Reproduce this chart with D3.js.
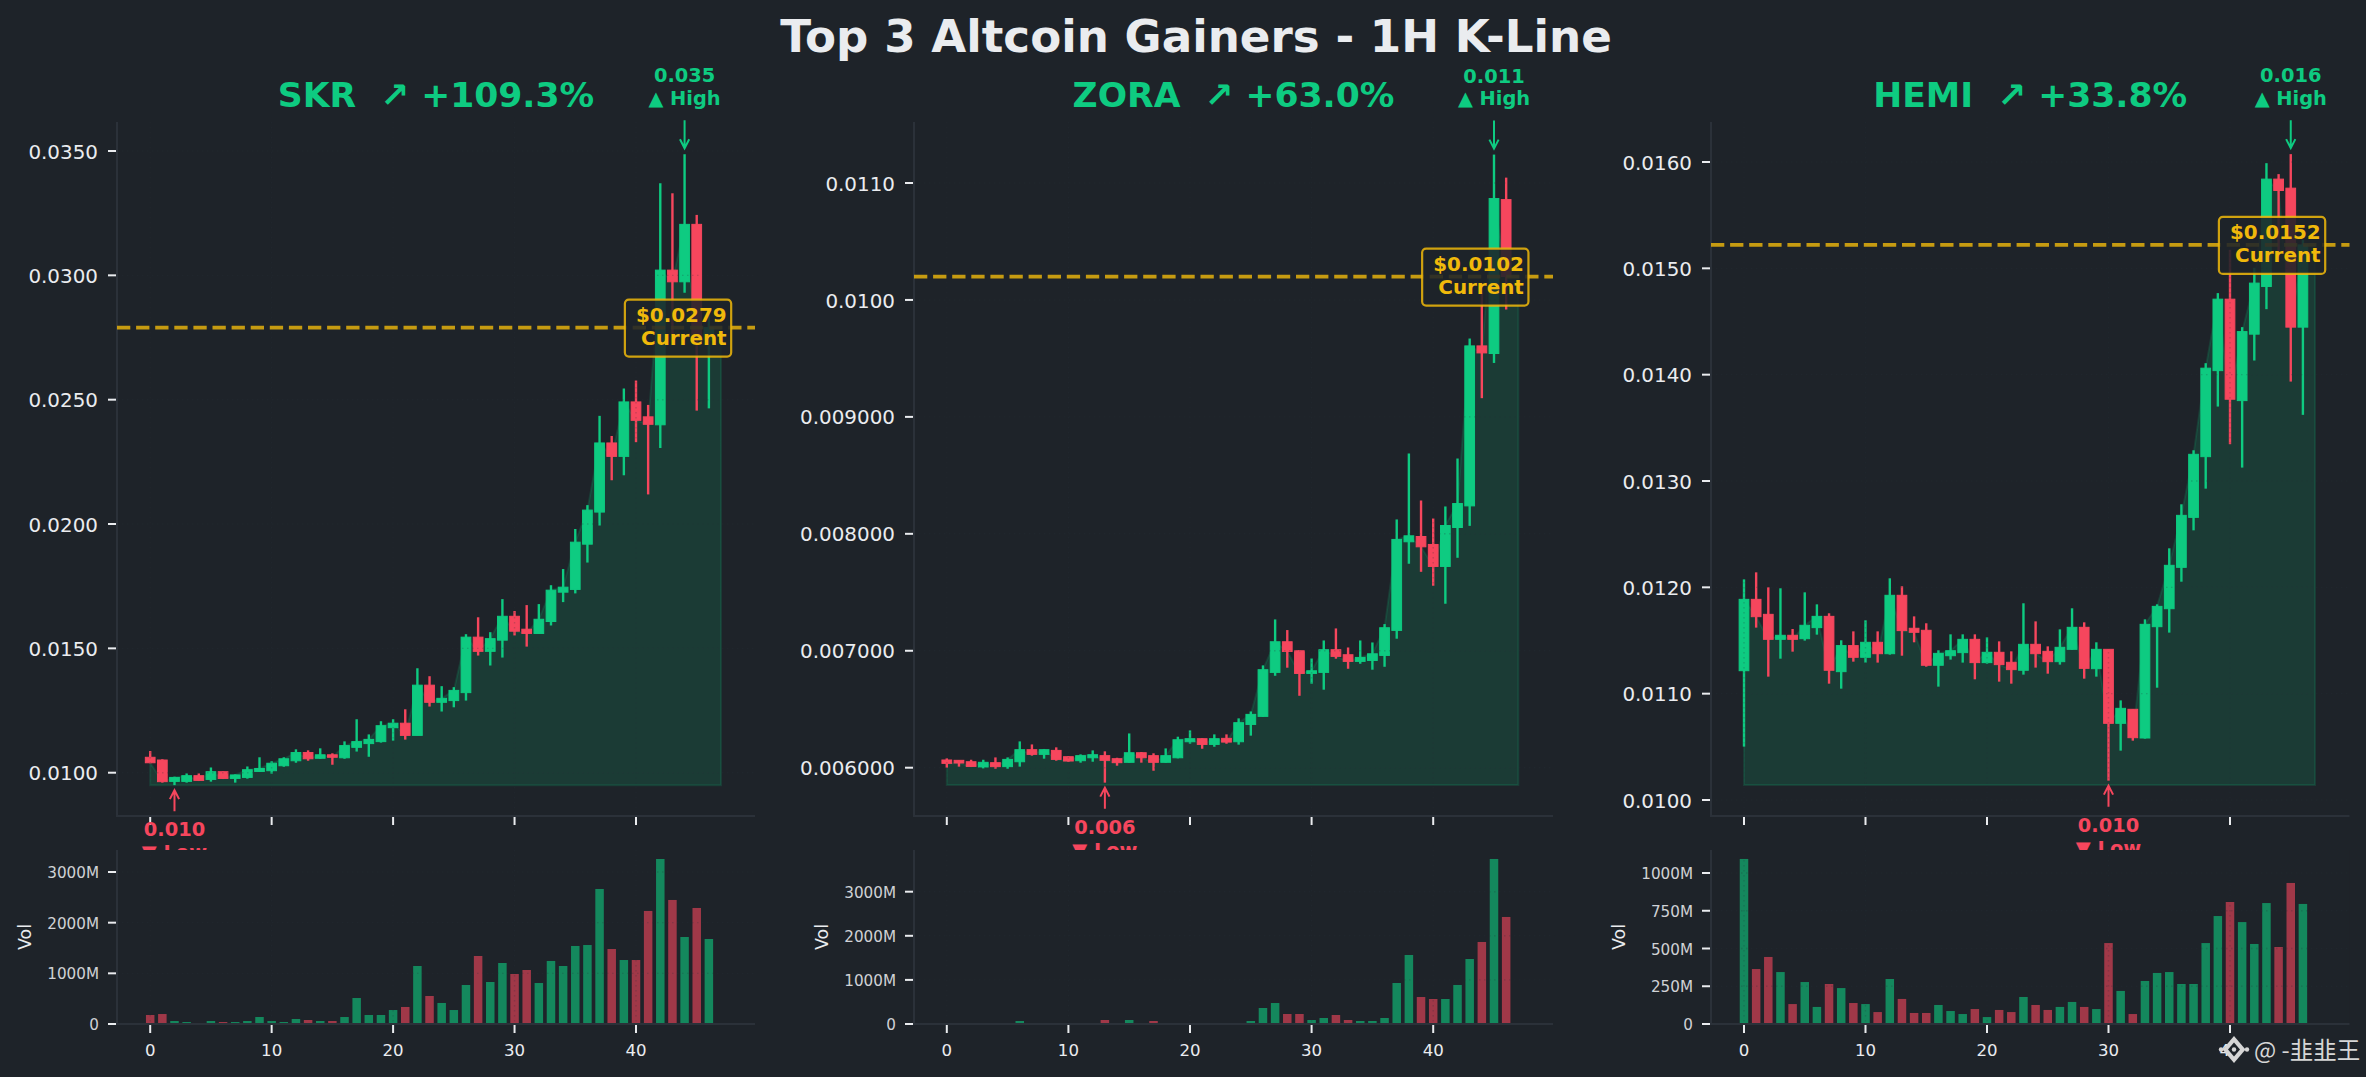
<!DOCTYPE html>
<html><head><meta charset="utf-8">
<script src="https://cdn.jsdelivr.net/npm/d3@7"></script>
<style>html,body{margin:0;padding:0;background:#1e2329}svg{display:block}text{font-family:"DejaVu Sans",sans-serif}</style>
</head><body><svg id="c" width="2366" height="1077"></svg>
<script>
const xTicks=[0,10,20,30,40];
const skrOpen=[0.01062,0.01051,0.00965,0.00965,0.00988,0.00973,0.01004,0.00977,0.00981,0.01005,0.01008,0.01028,0.01048,0.01081,0.01058,0.01072,0.01060,0.01102,0.01117,0.01125,0.01181,0.01199,0.01150,0.01352,0.01283,0.01290,0.01322,0.01545,0.01488,0.01533,0.01629,0.01577,0.01560,0.01608,0.01726,0.01737,0.01919,0.02048,0.02326,0.02272,0.02491,0.02431,0.02399,0.03021,0.02974,0.03205,0.02740];
const skrHigh=[0.01087,0.01054,0.00984,0.00997,0.00997,0.01021,0.01005,0.00993,0.01025,0.01062,0.01046,0.01062,0.01094,0.01090,0.01098,0.01078,0.01126,0.01215,0.01154,0.01207,0.01215,0.01255,0.01420,0.01388,0.01348,0.01344,0.01557,0.01625,0.01565,0.01698,0.01650,0.01674,0.01678,0.01754,0.01819,0.01980,0.02076,0.02435,0.02354,0.02545,0.02577,0.02479,0.03370,0.03330,0.03487,0.03243,0.02860];
const skrLow=[0.01038,0.00960,0.00950,0.00960,0.00968,0.00964,0.00976,0.00960,0.00976,0.01004,0.00996,0.01024,0.01040,0.01048,0.01056,0.01032,0.01056,0.01085,0.01064,0.01121,0.01129,0.01133,0.01150,0.01266,0.01246,0.01263,0.01290,0.01471,0.01431,0.01463,0.01552,0.01507,0.01560,0.01592,0.01686,0.01721,0.01845,0.01994,0.02176,0.02196,0.02329,0.02119,0.02306,0.02756,0.02930,0.02456,0.02465];
const skrClose=[0.01040,0.00964,0.00981,0.00988,0.00969,0.01004,0.00977,0.00991,0.01012,0.01017,0.01038,0.01056,0.01081,0.01056,0.01072,0.01062,0.01109,0.01125,0.01134,0.01189,0.01199,0.01150,0.01352,0.01283,0.01299,0.01331,0.01545,0.01488,0.01539,0.01629,0.01569,0.01560,0.01617,0.01734,0.01746,0.01927,0.02056,0.02326,0.02272,0.02491,0.02417,0.02401,0.03021,0.02974,0.03205,0.02740,0.02790];
const skrVol=[178,197,59,39,20,59,39,39,59,138,59,39,99,79,59,59,138,513,178,178,276,336,1145,553,415,276,770,1342,829,1204,987,1066,809,1244,1145,1540,1559,2665,1480,1263,1263,2231,3257,2448,1717,2290,1678];
const zoraOpen=[0.006066,0.006063,0.006051,0.006006,0.006043,0.006009,0.006051,0.006154,0.006114,0.006148,0.006094,0.006060,0.006085,0.006103,0.006077,0.006046,0.006128,0.006103,0.006046,0.006085,0.006222,0.006248,0.006199,0.006251,0.006222,0.006370,0.006439,0.006815,0.007077,0.007000,0.006806,0.006815,0.007009,0.006966,0.006909,0.006917,0.006960,0.007174,0.007932,0.007977,0.007909,0.007721,0.008054,0.008239,0.009607,0.009542,0.010858];
const zoraHigh=[0.006080,0.006063,0.006068,0.006068,0.006088,0.006088,0.006225,0.006199,0.006157,0.006174,0.006097,0.006114,0.006148,0.006140,0.006085,0.006293,0.006134,0.006123,0.006165,0.006265,0.006319,0.006251,0.006285,0.006285,0.006422,0.006481,0.006875,0.007268,0.007177,0.007006,0.006934,0.007088,0.007191,0.007028,0.007088,0.007071,0.007228,0.008123,0.008687,0.008285,0.008131,0.008234,0.008644,0.009670,0.010057,0.011243,0.011046];
const zoraLow=[0.006000,0.006009,0.006009,0.005994,0.005991,0.005991,0.006009,0.006103,0.006077,0.006060,0.006051,0.006043,0.006051,0.005872,0.006017,0.006043,0.006043,0.005974,0.006043,0.006080,0.006205,0.006162,0.006179,0.006205,0.006197,0.006274,0.006436,0.006786,0.006855,0.006615,0.006718,0.006667,0.006932,0.006846,0.006889,0.006838,0.006863,0.007103,0.007744,0.007675,0.007556,0.007402,0.007795,0.008068,0.009160,0.009461,0.009918];
const zoraClose=[0.006037,0.006040,0.006011,0.006046,0.006009,0.006071,0.006154,0.006114,0.006154,0.006071,0.006057,0.006103,0.006111,0.006063,0.006043,0.006128,0.006085,0.006046,0.006103,0.006239,0.006248,0.006199,0.006248,0.006219,0.006385,0.006456,0.006838,0.007077,0.006994,0.006806,0.006829,0.007009,0.006952,0.006909,0.006943,0.006974,0.007197,0.007952,0.007983,0.007889,0.007721,0.008071,0.008259,0.009607,0.009547,0.010867,0.010200];
const zoraVol=[15,12,10,12,14,12,68,15,10,12,14,16,12,91,14,91,15,68,14,16,12,10,14,15,18,68,363,476,227,227,91,136,204,91,68,68,136,930,1565,612,567,567,885,1474,1860,3742,2427];
const hemiOpen=[0.011216,0.011887,0.011746,0.011511,0.011549,0.011517,0.011621,0.011727,0.011207,0.011452,0.011342,0.011483,0.011376,0.011925,0.011615,0.011596,0.011267,0.011357,0.011386,0.011511,0.011292,0.011389,0.011295,0.011220,0.011464,0.011398,0.011301,0.011417,0.011624,0.011235,0.011417,0.010721,0.010853,0.010583,0.011630,0.011799,0.012188,0.012658,0.013229,0.014038,0.014710,0.013756,0.014381,0.014829,0.015839,0.015754,0.014447];
const hemiHigh=[0.012075,0.012141,0.012000,0.011991,0.011608,0.011953,0.011840,0.011756,0.011502,0.011586,0.011690,0.011586,0.012085,0.012010,0.011727,0.011662,0.011408,0.011558,0.011558,0.011558,0.011530,0.011492,0.011398,0.011850,0.011680,0.011445,0.011605,0.011803,0.011671,0.011483,0.011417,0.010937,0.010853,0.011699,0.011840,0.012367,0.012781,0.013289,0.014108,0.014767,0.015174,0.014447,0.015005,0.015989,0.015886,0.016074,0.015268];
const hemiLow=[0.010502,0.011621,0.011160,0.011329,0.011395,0.011499,0.011555,0.011094,0.011047,0.011301,0.011292,0.011292,0.011367,0.011357,0.011483,0.011254,0.011066,0.011320,0.011292,0.011135,0.011282,0.011113,0.011094,0.011179,0.011245,0.011188,0.011273,0.011414,0.011141,0.011160,0.010182,0.010464,0.010558,0.010577,0.011056,0.011574,0.012053,0.012536,0.012928,0.013700,0.013346,0.013126,0.014133,0.014616,0.015111,0.013935,0.013622];
const hemiClose=[0.011887,0.011724,0.011511,0.011549,0.011511,0.011643,0.011727,0.011220,0.011452,0.011342,0.011483,0.011376,0.011925,0.011593,0.011577,0.011267,0.011379,0.011404,0.011511,0.011292,0.011389,0.011273,0.011226,0.011464,0.011376,0.011301,0.011436,0.011624,0.011238,0.011417,0.010721,0.010862,0.010586,0.011652,0.011821,0.012207,0.012677,0.013251,0.014061,0.014710,0.013769,0.014405,0.014861,0.015839,0.015732,0.014447,0.015220];
const hemiVol=[1093,364,444,344,132,278,113,265,238,139,132,79,298,166,73,73,126,86,66,99,46,93,79,179,126,93,113,146,113,99,536,219,66,285,338,344,265,265,536,715,808,675,530,801,510,934,795];
const skrTicks=[0.010,0.015,0.020,0.025,0.030,0.035], skrTickLabels=["0.0100","0.0150","0.0200","0.0250","0.0300","0.0350"];
const zoraTicks=[0.006,0.007,0.008,0.009,0.010,0.011], zoraTickLabels=["0.006000","0.007000","0.008000","0.009000","0.0100","0.0110"];
const hemiTicks=[0.010,0.011,0.012,0.013,0.014,0.015,0.016], hemiTickLabels=["0.0100","0.0110","0.0120","0.0130","0.0140","0.0150","0.0160"];
const skrVolTicks=[0,1000,2000,3000], zoraVolTicks=[0,1000,2000,3000], hemiVolTicks=[0,250,500,750,1000];

const GREEN="#0ecb81",RED="#f6465d",GOLD="#f0b90b",BG="#1e2329",GRID="#2b3139",TXT="#eaecef";
const panels=[
 {title:"SKR  ↗ +109.3%",o:skrOpen,h:skrHigh,l:skrLow,c:skrClose,v:skrVol,yt:skrTicks,ytl:skrTickLabels,vt:skrVolTicks,
  cur:0.0279,curL:"$0.0279",hiL:"0.035",loL:"0.010",base:0.0095,
  left:117,right:755,x0:150.2,x40:636,yd:[0.010,0.035],yr:[772.7,151],vd:[0,3000],vr:[1024,872]},
 {title:"ZORA  ↗ +63.0%",o:zoraOpen,h:zoraHigh,l:zoraLow,c:zoraClose,v:zoraVol,yt:zoraTicks,ytl:zoraTickLabels,vt:zoraVolTicks,
  cur:0.0102,curL:"$0.0102",hiL:"0.011",loL:"0.006",base:0.005852,
  left:914,right:1553,x0:946.8,x40:1433.2,yd:[0.006,0.011],yr:[767.7,183],vd:[0,3000],vr:[1024,891.7]},
 {title:"HEMI  ↗ +33.8%",o:hemiOpen,h:hemiHigh,l:hemiLow,c:hemiClose,v:hemiVol,yt:hemiTicks,ytl:hemiTickLabels,vt:hemiVolTicks,
  cur:0.01522,curL:"$0.0152",hiL:"0.016",loL:"0.010",base:0.010141,
  left:1711,right:2349.5,x0:1744,x40:2230,yd:[0.010,0.016],yr:[800,162],vd:[0,1000],vr:[1024,873]}
];
const svg=d3.select("#c");
svg.append("rect").attr("width",2366).attr("height",1077).attr("fill",BG);
svg.append("text").attr("x",1196).attr("y",51.7).attr("text-anchor","middle").attr("font-size",45.2).attr("font-weight",700).attr("fill",TXT).text("Top 3 Altcoin Gainers - 1H K-Line");

const TOP=122,BOT=816,VTOP=850,VBOT=1024;
function arrow(g,x,y1,y2,col){
  const d=y2>y1?1:-1;
  g.append("path").attr("d",`M${x},${y1}L${x},${y2}M${x-4.6},${y2-d*9}L${x},${y2}L${x+4.6},${y2-d*9}`)
   .attr("fill","none").attr("stroke",col).attr("stroke-width",2);
}
panels.forEach(p=>{
  const g=svg.append("g");
  const x=d3.scaleLinear().domain([0,40]).range([p.x0,p.x40]);
  const y=d3.scaleLinear().domain(p.yd).range(p.yr);
  const vy=d3.scaleLinear().domain(p.vd).range(p.vr);
  const step=x(1)-x(0), idx=d3.range(p.c.length);
  g.append("text").attr("x",(p.left+p.right)/2).attr("y",107).attr("text-anchor","middle").attr("font-size",34.6).attr("font-weight",700)
   .attr("fill",GREEN).style("white-space","pre").text(p.title);
  const areaPts=idx.map(i=>[i,p.c[i]]).concat([[p.c.length,p.c[p.c.length-1]]]);
  g.append("path").datum(areaPts)
   .attr("d",d3.area().x(d=>x(d[0])).y0(y(p.base)).y1(d=>y(d[1])))
   .attr("fill",GREEN).attr("fill-opacity",.15).attr("stroke",GREEN).attr("stroke-opacity",.15).attr("stroke-width",2);
  const cg=g.append("g").selectAll("g").data(idx).join("g");
  cg.append("line").attr("x1",i=>x(i)).attr("x2",i=>x(i)).attr("y1",i=>y(p.h[i])).attr("y2",i=>y(p.l[i]))
    .attr("stroke",i=>p.c[i]>=p.o[i]?GREEN:RED).attr("stroke-width",2.4);
  cg.append("rect").attr("x",i=>x(i)-step*.4).attr("width",step*.8)
    .attr("y",i=>y(Math.max(p.o[i],p.c[i]))).attr("height",i=>Math.abs(y(p.o[i])-y(p.c[i])))
    .attr("fill",i=>p.c[i]>=p.o[i]?GREEN:RED).attr("stroke",i=>p.c[i]>=p.o[i]?GREEN:RED).attr("stroke-width",1);
  const gr=g.append("g").attr("stroke",GRID).attr("stroke-dasharray","1.5 3.5").attr("stroke-opacity",.22).attr("stroke-width",1.4);
  p.yt.forEach(t=>gr.append("line").attr("x1",p.left).attr("x2",p.right).attr("y1",y(t)).attr("y2",y(t)));
  xTicks.forEach(t=>gr.append("line").attr("x1",x(t)).attr("x2",x(t)).attr("y1",TOP).attr("y2",BOT));
  g.append("path").attr("d",`M${p.left},${TOP}V${BOT}H${p.right}`).attr("fill","none").attr("stroke",GRID).attr("stroke-width",2);
  p.yt.forEach((t,k)=>{
    g.append("line").attr("x1",p.left-9).attr("x2",p.left-1).attr("y1",y(t)).attr("y2",y(t)).attr("stroke",TXT).attr("stroke-width",2);
    g.append("text").attr("x",p.left-19).attr("y",y(t)+7.6).attr("text-anchor","end").attr("font-size",19.9).attr("fill",TXT).text(p.ytl[k]);
  });
  const hi=d3.maxIndex(p.h), lo=d3.minIndex(p.l), hy=y(p.h[hi]), ly=y(p.l[lo]);
  xTicks.filter(t=>t!==lo).forEach(t=>g.append("line").attr("x1",x(t)).attr("x2",x(t)).attr("y1",BOT+1).attr("y2",BOT+9).attr("stroke",TXT).attr("stroke-width",2));
  const cy=y(p.cur);
  g.append("line").attr("x1",p.left).attr("x2",p.right).attr("y1",cy).attr("y2",cy).attr("stroke",GOLD).attr("stroke-opacity",.8)
    .attr("stroke-width",3.8).attr("stroke-dasharray","13.3 5.8");
  arrow(g,x(hi),hy-34,hy-6,GREEN);
  g.append("text").attr("x",x(hi)).attr("y",hy-72).attr("text-anchor","middle").attr("font-size",19.4).attr("font-weight",700).attr("fill",GREEN).text(p.hiL);
  g.append("text").attr("x",x(hi)).attr("y",hy-49.3).attr("text-anchor","middle").attr("font-size",19.4).attr("font-weight",700).attr("fill",GREEN).text("▲ High");
  arrow(g,x(lo),ly+26,ly+5,RED);
  g.append("text").attr("x",x(lo)).attr("y",ly+51).attr("text-anchor","middle").attr("font-size",19.4).attr("font-weight",700).attr("fill",RED).text(p.loL);
  g.append("text").attr("x",x(lo)).attr("y",ly+74).attr("text-anchor","middle").attr("font-size",19.4).attr("font-weight",700).attr("fill",RED).text("▼ Low");
  const tr=x(44)+42;
  g.append("rect").attr("x",tr-101.7).attr("y",cy-28).attr("width",106.3).attr("height",57).attr("rx",4)
   .attr("fill",BG).attr("fill-opacity",.88).attr("stroke",GOLD).attr("stroke-opacity",.85).attr("stroke-width",2.2);
  g.append("text").attr("x",tr).attr("y",cy-5.8).attr("text-anchor","end").attr("font-size",19.9).attr("font-weight",700).attr("fill",GOLD).text(p.curL);
  g.append("text").attr("x",tr).attr("y",cy+17.5).attr("text-anchor","end").attr("font-size",19.9).attr("font-weight",700).attr("fill",GOLD).text("Current");
  const vg=svg.append("g");
  vg.append("rect").attr("x",p.left).attr("y",VTOP).attr("width",p.right-p.left).attr("height",VBOT-VTOP).attr("fill",BG);
  vg.selectAll("rect.b").data(idx).join("rect").attr("class","b")
    .attr("x",i=>x(i)-step*.35).attr("width",step*.7).attr("y",i=>vy(p.v[i])).attr("height",i=>VBOT-vy(p.v[i]))
    .attr("fill",i=>p.c[i]>=p.o[i]?GREEN:RED).attr("fill-opacity",.6);
  const vgr=vg.append("g").attr("stroke",GRID).attr("stroke-dasharray","1.5 3.5").attr("stroke-opacity",.22).attr("stroke-width",1.4);
  p.vt.slice(1).forEach(t=>vgr.append("line").attr("x1",p.left).attr("x2",p.right).attr("y1",vy(t)).attr("y2",vy(t)));
  xTicks.forEach(t=>vgr.append("line").attr("x1",x(t)).attr("x2",x(t)).attr("y1",VTOP).attr("y2",VBOT));
  vg.append("path").attr("d",`M${p.left},${VTOP}V${VBOT}H${p.right}`).attr("fill","none").attr("stroke",GRID).attr("stroke-width",2);
  p.vt.forEach(t=>{
    vg.append("line").attr("x1",p.left-9).attr("x2",p.left-1).attr("y1",vy(t)).attr("y2",vy(t)).attr("stroke",TXT).attr("stroke-width",2);
    vg.append("text").attr("x",p.left-18).attr("y",vy(t)+6).attr("text-anchor","end").attr("font-size",15.2).attr("fill",TXT).attr("fill-opacity",.88).text(t===0?"0":t+"M");
  });
  xTicks.forEach(t=>{
    vg.append("line").attr("x1",x(t)).attr("x2",x(t)).attr("y1",VBOT+1).attr("y2",VBOT+9).attr("stroke",TXT).attr("stroke-width",2);
    vg.append("text").attr("x",x(t)).attr("y",1055.5).attr("text-anchor","middle").attr("font-size",16.6).attr("fill",TXT).text(t);
  });
  vg.append("text").attr("transform",`translate(${p.left-92},937) rotate(-90)`).attr("y",6).attr("text-anchor","middle").attr("font-size",17.5).attr("fill",TXT).text("Vol");
});
const wm=svg.append("g");
wm.append("path").attr("d","M2234,1036L2245.5,1049.5L2234,1063L2222.5,1049.5Z").attr("fill","#d6d6d6");
wm.append("path").attr("d","M2234,1042.5L2240,1049.5L2234,1056.5L2228,1049.5Z").attr("fill",BG);
wm.append("circle").attr("cx",2234).attr("cy",1049.5).attr("r",2.2).attr("fill","#d6d6d6");
wm.append("circle").attr("cx",2221).attr("cy",1049.5).attr("r",2.2).attr("fill","#d6d6d6");
wm.append("circle").attr("cx",2247).attr("cy",1049.5).attr("r",2.2).attr("fill","#d6d6d6");
wm.append("text").attr("x",2254).attr("y",1059).attr("font-size",23.5).attr("fill","#d6d6d6").style("font-family",'"Noto Sans CJK SC","DejaVu Sans",sans-serif').text("@ -韭韭王");
</script></body></html>
